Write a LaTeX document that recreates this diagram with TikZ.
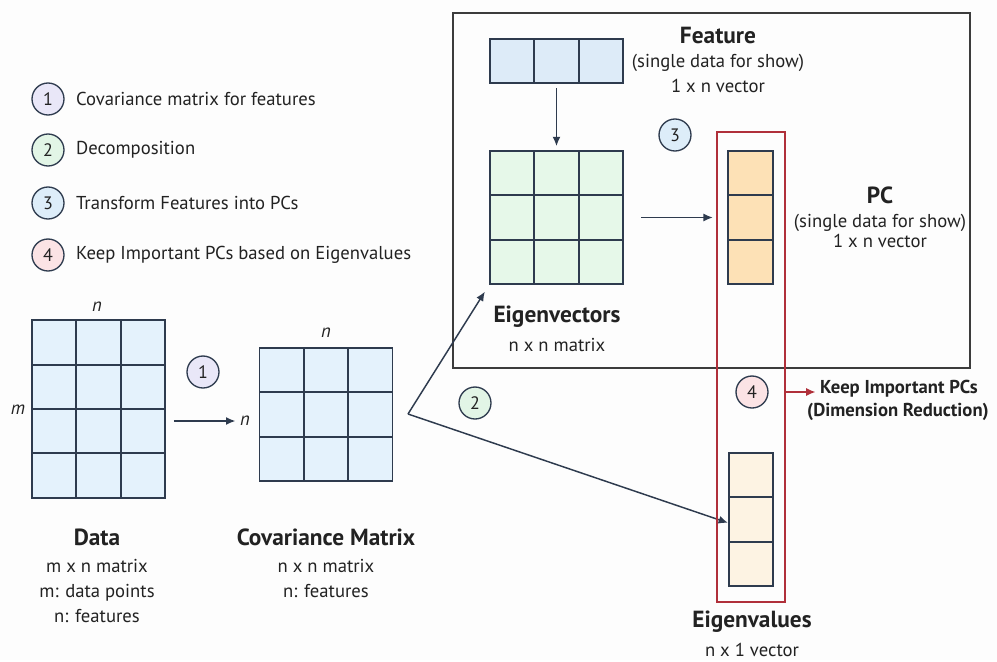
\documentclass[tikz,border=0pt]{standalone}
\usepackage{fontspec}
\setmainfont{PT Sans}
\usetikzlibrary{matrix,positioning,arrows.meta}
\definecolor{bgc}{HTML}{FDFDFD}
\definecolor{textc}{HTML}{222222}
\definecolor{gridc}{HTML}{2E3B4E}
\definecolor{boxc}{HTML}{3C3C3C}
\definecolor{redc}{HTML}{B0303A}
\definecolor{datafill}{HTML}{E4F2FC}
\definecolor{featfill}{HTML}{DDEBF8}
\definecolor{vecfill}{HTML}{E6F8E9}
\definecolor{pcfill}{HTML}{FDE1B6}
\definecolor{valfill}{HTML}{FDF3E3}
\definecolor{onefill}{HTML}{E9E7F8}
\definecolor{twofill}{HTML}{E2F5E6}
\definecolor{threefill}{HTML}{DDEDF9}
\definecolor{fourfill}{HTML}{FBE3E5}

\begin{document}
\begin{tikzpicture}[
    x=0.75pt, y=-0.75pt,
    font=\fontsize{14}{17}\selectfont,
    text=textc,
    cellbox/.style={draw=gridc, line width=1.3pt, minimum width=33.25pt, minimum height=33.25pt, inner sep=0pt, outer sep=0pt},
    gridm/.style={matrix of nodes, nodes in empty cells, column sep=-1.3pt, row sep=-1.3pt, inner sep=0pt, outer sep=0pt, fill=#1, nodes={cellbox}},
    num/.style={circle, draw=gridc, line width=1pt, fill=#1, minimum size=24pt, inner sep=0pt, font=\fontsize{13.5}{13.5}\selectfont},
    title/.style={font=\fontsize{17.5}{20}\selectfont\bfseries},
    desc/.style={align=center, font=\fontsize{14}{19}\selectfont},
    dim/.style={font=\fontsize{14}{14}\selectfont\itshape},
    arr/.style={-{Latex[length=7pt,width=6pt]}, line width=1.1pt, draw=gridc},
    redarr/.style={-{Latex[length=7pt,width=6pt]}, line width=1pt, draw=redc}
]
\fill[bgc] (0,0) rectangle (997,660);

% legend
\node[num=onefill] (l1) at (48,99) {1};
\node[right=5pt of l1] (l1t) {Covariance matrix for features};
\node[num=twofill] (l2) at (48,150) {2};
\node[right=5pt of l2] (l2t) {Decomposition};
\node[num=threefill] (l3) at (48,203) {3};
\node[right=5pt of l3] (l3t) {Transform Features into PCs};
\node[num=fourfill] (l4) at (48,255) {4};
\node[right=5pt of l4] (l4t) {Keep Important PCs based on Eigenvalues};

% data and covariance
\matrix (data) [gridm=datafill] at (98.5,409) { & & \\ & & \\ & & \\ & & \\ };
\node[dim] (nd) at (97,307) {n};
\node[dim] (md) at (18,410) {m};
\node[title] (datat) at (97,537) {Data};
\node[desc, below=3pt of datat] (datad) {m x n matrix\\ m: data points\\ n: features};

\matrix (cov) [gridm=datafill] at (326,414.5) { & & \\ & & \\ & & \\ };
\node[dim] (nc) at (326,333) {n};
\node[dim] (nrow) at (245,421) {n};
\node[title] (covt) at (326,537) {Covariance Matrix};
\node[desc, below=3pt of covt] (covd) {n x n matrix\\ n: features};

\node[num=onefill] (c1) at (203,372) {1};
\draw[arr] ([xshift=6pt]data.east |- nrow.west) -- (nrow.west);

% transform box
\node[draw=boxc, line width=1pt, minimum width=387.75pt, minimum height=266.25pt] (trans) at (711.5,190.5) {};

\matrix (feat) [gridm=featfill] at (556.5,61) { & & \\ };
\node[title] (featt) at (718,35) {Feature};
\node[desc, below=1pt of featt] (featd) {(single data for show)\\ 1 x n vector};

\matrix (eigvec) [gridm=vecfill] at (556.5,217.5) { & & \\ & & \\ & & \\ };
\node[title] (vect) at (557,317) {Eigenvectors};
\node[desc, below=1pt of vect] (vecd) {n x n matrix};

\matrix (pc) [gridm=pcfill] at (750.5,217.5) { \\ \\ \\ };
\node[title] (pct) at (880,195) {PC};
\node[desc, below=1pt of pct, font=\fontsize{14}{15}\selectfont] (pcd) {(single data for show)\\ 1 x n vector};

\node[num=threefill] (c3) at (675,135) {3};
\draw[arr, shorten <=3pt, shorten >=3pt] (feat) -- (eigvec);
\draw[arr, shorten <=13pt, shorten >=11pt] (eigvec.east) -- (eigvec.east -| pc.west);

% eigenvalues
\matrix (eigval) [gridm=valfill] at (751,519.5) { \\ \\ \\ };
\node[title] (valt) at (752,622) {Eigenvalues};
\node[desc, below=1pt of valt] (vald) {n x 1 vector};

\node[num=twofill] (c2) at (475,403) {2};
\coordinate (split) at (408,414);
\draw[arr, shorten >=6pt] (split) -- (eigvec.south west);
\draw[arr] (split) -- ([yshift=-2.5pt]eigval.west);

% keep important PCs
\node[draw=redc, line width=0.9pt, minimum width=51pt, minimum height=352.5pt] (keep) at (751,367) {};
\node[num=fourfill] (c4) at (752,392) {4};
\node[font=\fontsize{14}{14}\selectfont\bfseries] (kp1) at (899,389) {Keep Important PCs};
\node[font=\fontsize{14}{14}\selectfont\bfseries] (kp2) at (898,412) {(Dimension Reduction)};
\draw[redarr] (keep.east |- c4) -- (kp1.west |- c4);
\end{tikzpicture}
\end{document}
